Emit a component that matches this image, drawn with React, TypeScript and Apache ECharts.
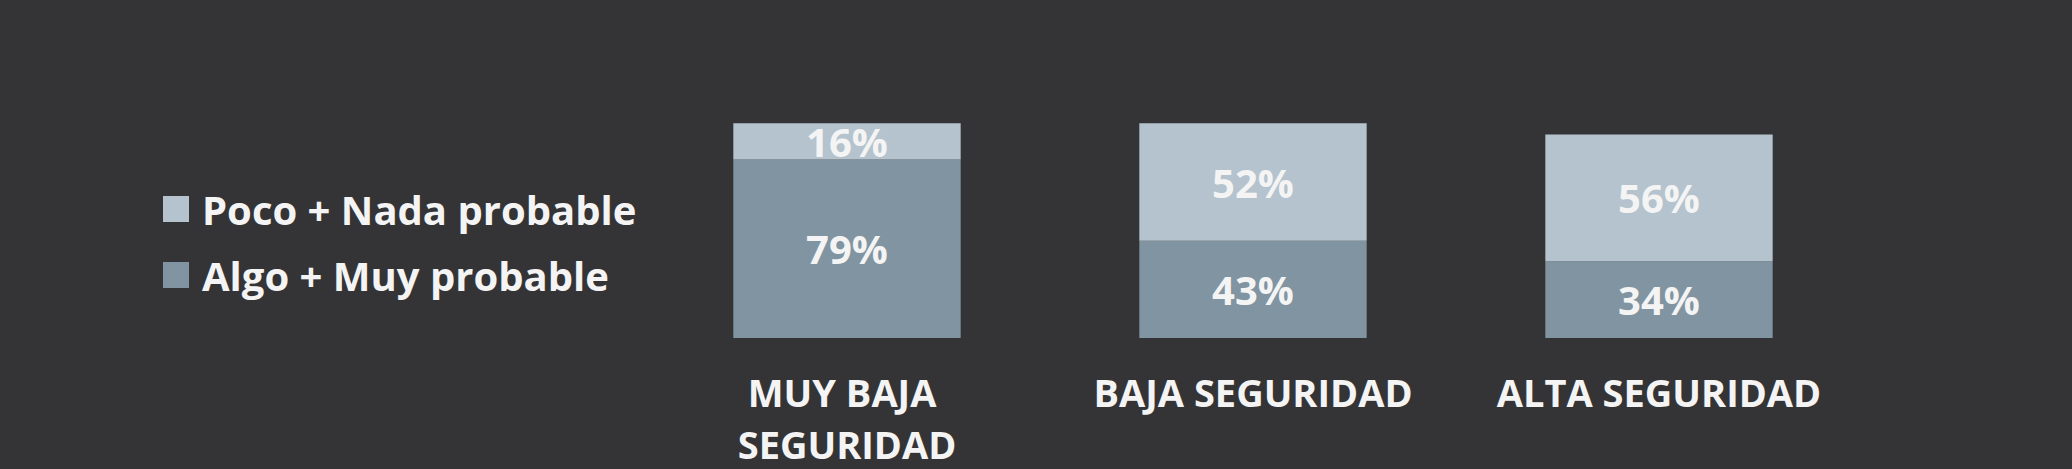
import React, { useEffect, useRef } from "react";
import * as echarts from "echarts";

const categories = ["MUY BAJA SEGURIDAD", "BAJA SEGURIDAD", "ALTA SEGURIDAD"];
const algoMuy = [79, 43, 34];
const pocoNada = [16, 52, 56];
const seriesNames = ["Poco + Nada probable", "Algo + Muy probable"];

const FONT = "'Open Sans', sans-serif";

export default function App() {
  const ref = useRef<HTMLDivElement>(null);
  useEffect(() => {
    document.body.style.margin = "0";
    document.body.style.background = "#343437";
    const chart = echarts.init(ref.current!, undefined, { renderer: "svg" });
    const label = {
      show: true,
      position: "inside",
      color: "#f4f4f4",
      fontFamily: FONT,
      fontWeight: "bold",
      fontSize: 40,
      formatter: (p: any) => p.value + "%",
    };
    chart.setOption({
      animation: false,
      backgroundColor: "#343437",
      legend: {
        orient: "vertical",
        left: 158,
        top: 184,
        itemWidth: 26,
        itemHeight: 26,
        itemGap: 26,
        icon: "rect",
        data: [seriesNames[0], seriesNames[1]],
        textStyle: {
          color: "#f4f4f4",
          fontFamily: FONT,
          fontWeight: "bold",
          fontSize: 40,
          padding: [0, 0, 0, 8],
        },
      },
      grid: {
        left: 644,
        right: 210,
        top: 112,
        bottom: 131,
        containLabel: false,
        outerBoundsMode: "none",
      },
      xAxis: {
        type: "category",
        data: categories,
        axisLine: { show: false },
        axisTick: { show: false },
        axisLabel: {
          color: "#f4f4f4",
          fontFamily: FONT,
          fontWeight: "bold",
          fontSize: 38,
          lineHeight: 52,
          margin: 28,
          interval: 0,
          width: 370,
          overflow: "break",
        },
      },
      yAxis: { type: "value", min: 0, max: 100, show: false, splitLine: { show: false } },
      series: [
        {
          name: seriesNames[1],
          type: "bar",
          stack: "s",
          data: algoMuy,
          barCategoryGap: "44%",
          itemStyle: { color: "#8194a1" },
          label,
        },
        {
          name: seriesNames[0],
          type: "bar",
          stack: "s",
          data: pocoNada,
          itemStyle: { color: "#b4c3cd" },
          label,
        },
      ],
    });
    return () => chart.dispose();
  }, []);
  return <div ref={ref} style={{ width: 2072, height: 469 }} />;
}
